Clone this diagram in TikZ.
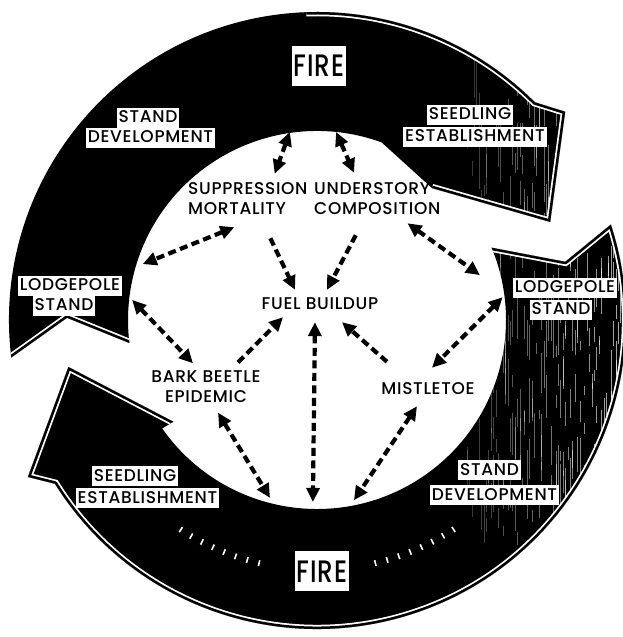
\documentclass[tikz,border=0pt]{standalone}
\usepackage{fontspec}
\setmainfont{Poppins Medium}[LetterSpace=4]
\usepackage{graphicx}
\usepackage{tikz}
\usetikzlibrary{arrows.meta}

\begin{document}
\begin{tikzpicture}[x=1pt, y=1pt,
  >={Triangle[length=14pt, width=13pt]},
  ringlab/.style={fill=white, inner xsep=2pt, inner ysep=0pt,
    text height=15pt, text depth=5pt, font=\fontsize{17}{20}\selectfont},
  firelab/.style={fill=white, inner xsep=2pt, inner ysep=9pt,
    text height=22pt, text depth=0pt, font=\fontsize{31}{31}\selectfont},
  inlab/.style={inner sep=0pt, font=\fontsize{17}{20}\selectfont},
  link/.style={<->, line width=4.2pt, dash pattern=on 8pt off 4.5pt},
  feed/.style={link, ->},
  inset/.style={preaction={draw=white, line width=8.5pt}, draw=black,
    line width=5pt, line join=round}]
  \useasboundingbox (-317,-317) rectangle (306,320);

  % ── The two ring arrows ──
  \def\ringtop{(187:308) arc[start angle=187, end angle=45, radius=308]
    -- (40:324) -- (22.8:253) -- (48.9:175) -- (70:189)
    arc[start angle=70, end angle=187, radius=189] -- (179.5:250) -- cycle}
  \def\ringbot{(18:309) arc[start angle=18, end angle=-148, radius=309]
    -- (-151.5:329) -- (-169.3:253) -- (-144.7:176) -- (-145:189)
    arc[start angle=-145, end angle=22.5, radius=189] -- (13.2:255) -- cycle}
  \fill[black] \ringtop;
  \fill[black] \ringbot;

  % streaky print on the right side
  \pgfmathsetseed{7}
  \begin{scope}
    \clip \ringtop \ringbot;
    \foreach \i in {0,...,64} {
      \pgfmathsetmacro{\xx}{150 + \i*2.4}
      \pgfmathsetmacro{\op}{0.2 + 0.45*\i/64}
      \foreach \j in {1,...,5} {
        \pgfmathsetmacro{\ya}{-225 + rnd*455}
        \pgfmathsetmacro{\yb}{\ya + 8 + rnd*40}
        \draw[white, opacity=\op, line width=0.6pt] (\xx,\ya) -- (\xx,\yb);
      }
    }
  \end{scope}

  % thin white inner outline
  \begin{scope}
    \clip \ringtop;
    \draw[inset] (92:308) arc[start angle=92, end angle=45, radius=308]
      -- (40:324) -- (22.8:253) -- (48.9:175);
    \draw[inset] (187:308) -- (179.5:250) -- (187:189);
  \end{scope}
  \begin{scope}
    \clip \ringbot;
    \draw[inset] (22.5:189) -- (13.2:255) -- (18:309)
      arc[start angle=18, end angle=-148, radius=309]
      -- (-151.5:329) -- (-169.3:253) -- (-144.7:176);
  \end{scope}

  % dotted marks by the lower fire
  \foreach \k in {0,...,7} {
    \pgfmathsetmacro{\a}{-123 + \k*2.8}
    \pgfmathsetmacro{\b}{-76.5 + \k*2.8}
    \draw[white, line width=1.6pt] (\a:247) -- (\a:253);
    \draw[white, line width=1.6pt] (\b:247) -- (\b:253);
  }

  % ── Labels on the ring ──
  \node[firelab] (fireTop) at (2,254) {\scalebox{0.8}[1]{FIRE}};
  \node[firelab] (fireBot) at (5,-251) {\scalebox{0.8}[1]{FIRE}};

  \node[ringlab] (devTop1) at (-169,202) {STAND};
  \node[ringlab] (devTop2) at (-166.5,182) {DEVELOPMENT};
  \node[ringlab] (seedTop1) at (153,205) {SEEDLING};
  \node[ringlab] (seedTop2) at (158,183) {ESTABLISHMENT};
  \node[ringlab] (poleL1) at (-247,34) {LODGEPOLE};
  \node[ringlab] (poleL2) at (-253,14) {STAND};
  \node[ringlab] (poleR1) at (248,32) {LODGEPOLE};
  \node[ringlab] (poleR2) at (244,10) {STAND};
  \node[ringlab] (seedBot1) at (-182,-156) {SEEDLING};
  \node[ringlab] (seedBot2) at (-169.5,-178) {ESTABLISHMENT};
  \node[ringlab] (devBot1) at (172.5,-150) {STAND};
  \node[ringlab] (devBot2) at (177.5,-175) {DEVELOPMENT};

  % ── Factors inside ──
  \node[inlab, align=left, anchor=west] (supp) at (-129,121)
    {SUPPRESSION\\MORTALITY};
  \node[inlab, align=left, anchor=west] (under) at (-3,121)
    {UNDERSTORY\\COMPOSITION};
  \node[inlab] (fuel) at (3,16) {FUEL BUILDUP};
  \node[inlab, align=center] (bark) at (-111,-66.5) {BARK BEETLE\\EPIDEMIC};
  \node[inlab] (mist) at (111,-69) {MISTLETOE};

  % ends on the rim of the ring
  \coordinate (rimA) at (98.2:190);
  \coordinate (rimB) at (84.2:189);
  \coordinate (rimL1) at (162.2:183);
  \coordinate (rimL2) at (173.8:186);
  \coordinate (rimR1) at (15.4:169);
  \coordinate (rimR2) at (7:187);
  \coordinate (rimD1) at (-104.8:184);
  \coordinate (rimD2) at (-91.3:182);
  \coordinate (rimD3) at (-78.4:184);

  % ── Links ──
  \draw[link] (rimA) -- ([shift={(-33,9)}]supp.north east);
  \draw[link] (rimB) -- ([shift={(40,10)}]under.north west);
  \draw[link] ([shift={(-13.5,-12)}]supp.south) -- (rimL1);
  \draw[feed] ([shift={(22.5,-23)}]supp.south) -- ([shift={(-25,8)}]fuel.north);
  \draw[feed] ([shift={(-21.5,-20)}]under.south) -- ([shift={(7,8)}]fuel.north);
  \draw[link] ([shift={(-33,-8)}]under.south east) -- (rimR1);
  \draw[link] (rimL2) -- ([shift={(-13,7)}]bark.north);
  \draw[feed] ([shift={(32,8)}]bark.north) -- ([shift={(-37,-7)}]fuel.south);
  \draw[link] ([shift={(-5,-12)}]fuel.south) -- (rimD2);
  \draw[feed] ([shift={(-41,21)}]mist.north) -- ([shift={(22,-12)}]fuel.south);
  \draw[link] (rimR2) -- ([shift={(4,15)}]mist.north);
  \draw[link] ([shift={(12,-10)}]bark.south) -- (rimD1);
  \draw[link] ([shift={(-11,-11)}]mist.south) -- (rimD3);
\end{tikzpicture}
\end{document}
